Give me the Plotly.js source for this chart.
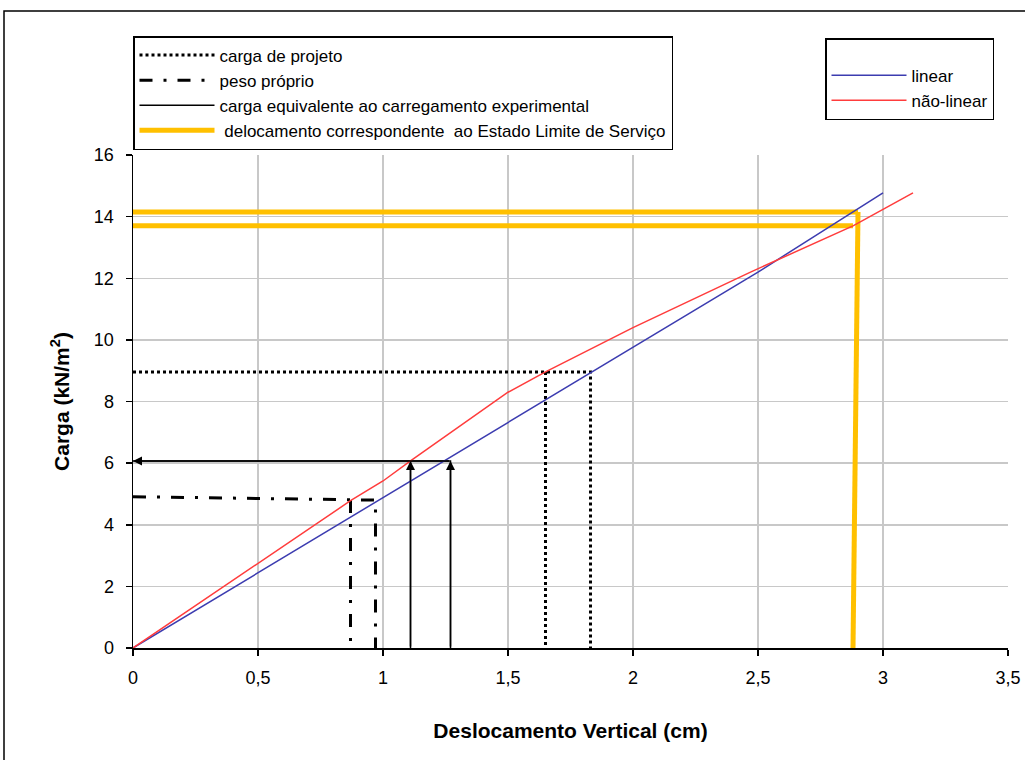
<!DOCTYPE html>
<html>
<head>
<meta charset="utf-8">
<script src="https://cdn.plot.ly/plotly-3.0.1.min.js"></script>
<style>body{margin:0;background:#fff}#chart{width:1025px;height:760px}</style>
</head>
<body>
<div id="chart"></div>
<script>
// Curves
const linearX = [0, 0.5, 1, 1.5, 2, 2.5, 3];
const linearY = [0, 2.44, 4.87, 7.3, 9.75, 12.2, 14.77];
const naoLinearX = [0, 0.5, 0.87, 1.0, 1.11, 1.5, 1.65, 2.0, 2.47, 2.88, 3.12];
const naoLinearY = [0, 2.76, 4.78, 5.42, 6.07, 8.3, 8.96, 10.4, 12.2, 13.7, 14.77];

// Reference lines
const projetoX = [0, 1.83, 1.83, null, 1.65, 1.65];
const projetoY = [8.96, 8.96, 0, null, 8.96, 0];
const pesoX = [0, 0.97, 0.97, null, 0.87, 0.87];
const pesoY = [4.91, 4.8, 0, null, 4.8, 0];
const experimentalX = [0, 1.27, 1.27, null, 1.11, 1.11];
const experimentalY = [6.07, 6.07, 0, null, 6.07, 0];
const elsX = [0, 2.9, null, 0, 2.88, null, 2.88, 2.9];
const elsY = [14.15, 14.15, null, 13.7, 13.7, null, 0, 14.15];

const legendNames = [
  'carga de projeto',
  'peso próprio',
  'carga equivalente ao carregamento experimental',
  ' delocamento correspondente  ao Estado Limite de Serviço',
  'linear',
  'não-linear'
];
const xTicks = [0, 0.5, 1, 1.5, 2, 2.5, 3, 3.5];
const yTicks = [0, 2, 4, 6, 8, 10, 12, 14, 16];

const traces = [
  {x: projetoX, y: projetoY, mode: 'lines', name: legendNames[0], legend: 'legend',
   line: {color: '#000', width: 3, dash: 'dot'}},
  {x: pesoX, y: pesoY, mode: 'lines', name: legendNames[1], legend: 'legend',
   line: {color: '#000', width: 3, dash: '13px,11px,3px,11px'}},
  {x: experimentalX, y: experimentalY, mode: 'lines', name: legendNames[2], legend: 'legend',
   line: {color: '#000', width: 1.5}},
  {x: elsX, y: elsY, mode: 'lines', name: legendNames[3], legend: 'legend',
   line: {color: '#ffc000', width: 5}},
  {x: linearX, y: linearY, mode: 'lines', name: legendNames[4], legend: 'legend2',
   line: {color: '#3c3cb0', width: 1.5}},
  {x: naoLinearX, y: naoLinearY, mode: 'lines', name: legendNames[5], legend: 'legend2',
   line: {color: '#ff3c3c', width: 1.5}}
];

// arrows: head at (x,y), tail at (ax,ay)
const arrowHeadX = [0, 1.11, 1.27];
const arrowHeadY = [6.07, 6.07, 6.07];
const arrowTailX = [1.27, 1.11, 1.27];
const arrowTailY = [6.07, 0, 0];
const annotations = arrowHeadX.map((x, i) => ({
  x: x, y: arrowHeadY[i], ax: arrowTailX[i], ay: arrowTailY[i],
  xref: 'x', yref: 'y', axref: 'x', ayref: 'y',
  text: '', showarrow: true, arrowhead: 2, arrowsize: 1.2, arrowwidth: 1.5, arrowcolor: '#000'
}));

const layout = {
  width: 1025, height: 760,
  margin: {l: 133, r: 17, t: 155, b: 112},
  paper_bgcolor: '#fff', plot_bgcolor: '#fff',
  font: {family: 'Liberation Sans, Arial, sans-serif', color: '#000', size: 17},
  separators: ',.',
  showlegend: true,
  xaxis: {
    range: [0, 3.5], tickvals: xTicks, showgrid: true, gridcolor: '#c8c8c8', gridwidth: 1.5,
    zeroline: false, showline: true, linecolor: '#000', linewidth: 1.5,
    ticks: 'outside', ticklen: 6, tickcolor: '#000', tickwidth: 1.5,
    tickfont: {size: 18}, ticklabelstandoff: 7,
    title: {text: 'Deslocamento Vertical (cm)', font: {size: 21, weight: 'bold'}, standoff: 36}
  },
  yaxis: {
    range: [0, 16], tickvals: yTicks, showgrid: true, gridcolor: '#c8c8c8', gridwidth: 1.5,
    zeroline: false, showline: true, linecolor: '#000', linewidth: 1.5,
    ticks: 'outside', ticklen: 6, tickcolor: '#000', tickwidth: 1.5,
    tickfont: {size: 18}, ticklabelstandoff: 8,
    title: {text: 'Carga (kN/m<sup>2</sup>)', font: {size: 21, weight: 'bold'}, standoff: 18}
  },
  legend: {
    x: 0, y: 1 + (155 - 36) / 493, xanchor: 'left', yanchor: 'top',
    bgcolor: '#fff', bordercolor: '#000', borderwidth: 1.5,
    font: {size: 17}, itemwidth: 75, traceorder: 'normal'
  },
  legend2: {
    x: (825 - 133) / 875, y: 1 + (155 - 38) / 493, xanchor: 'left', yanchor: 'top',
    bgcolor: '#fff', bordercolor: '#000', borderwidth: 1.5,
    font: {size: 17}, itemwidth: 75, traceorder: 'normal',
    title: {text: '\u00a0', font: {size: 14}}
  },
  annotations: annotations,
  shapes: [{
    type: 'rect', xref: 'paper', yref: 'paper',
    x0: (4 - 133) / 875, x1: (1030 - 133) / 875,
    y0: (648 - 770) / 493, y1: 1 + (155 - 11) / 493,
    line: {color: '#000', width: 1.5}, fillcolor: 'rgba(0,0,0,0)', layer: 'below'
  }]
};

Plotly.newPlot('chart', traces, layout, {displayModeBar: false, staticPlot: true});
</script>
</body>
</html>
